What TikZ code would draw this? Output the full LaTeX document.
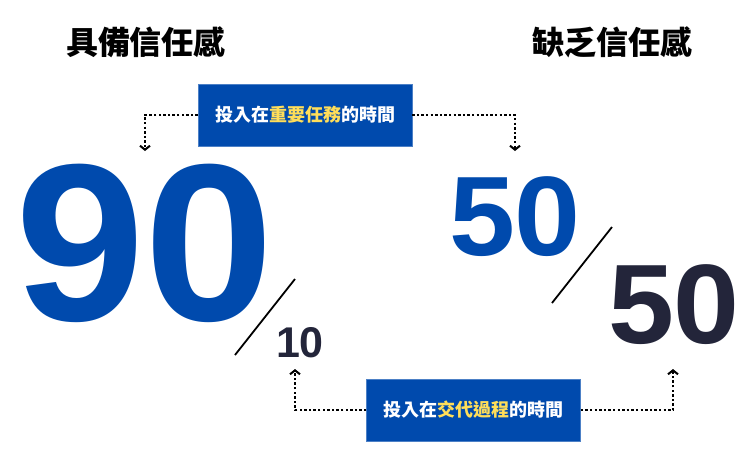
\documentclass[tikz,border=0pt]{standalone}
\usepackage{fontspec}
\setmainfont{Liberation Sans}
\newfontfamily\cjk{Noto Sans CJK TC}
\newfontfamily\cjkheavy{Noto Sans CJK TC Black}
\usetikzlibrary{arrows.meta}
\definecolor{tiefblau}{HTML}{004AAD}
\definecolor{nachtblau}{HTML}{23253A}
\definecolor{gelb}{HTML}{FFDE59}
\begin{document}
\begin{tikzpicture}[x=1pt, y=-1pt,
	titel/.style={font=\cjkheavy\fontsize{32}{32}\selectfont, text=black},
	kasten/.style={fill=tiefblau, draw=tiefblau!70!white, minimum width=214pt, minimum height=62pt, inner sep=0pt, text=white, font=\cjk\bfseries\fontsize{18}{18}\selectfont},
	zahl/.style={font=\bfseries\fontsize{#1}{#1}\selectfont, inner sep=0pt, text depth=0pt, text height=0.73\dimexpr#1pt\relax, anchor=base},
	pfeil/.style={line width=2.6pt, dash pattern=on 2.4pt off 2.2pt, -{Straight Barb[length=4pt, width=10pt, line width=2pt]}}
	]
	\useasboundingbox (0,0) rectangle (753,464);
	
	% Ueberschriften
	\node[titel] (links) at (146,42) {具備信任感};
	\node[titel] (rechts) at (612,42) {缺乏信任感};
	
	% Kaesten
	\node[kasten] (oben) at (305,115) {投入在\textcolor{gelb}{重要任務}的時間};
	\node[kasten] (unten) at (473.5,410) {投入在\textcolor{gelb}{交代過程}的時間};
	
	% Zahlen links (90/10)
	\node[zahl=224, text=tiefblau, xscale=1.04] (neunzig) at (145,320) {90};
	\node[zahl=43, text=nachtblau] (zehn) at (300,357) {10};
	\draw[line width=1.8pt] (235,355) -- (295,279);
	
	% Zahlen rechts (50/50)
	\node[zahl=113, text=tiefblau, xscale=1.05] (fuenfzigA) at (515,255) {50};
	\node[zahl=113, text=nachtblau, xscale=1.05] (fuenfzigB) at (674,343) {50};
	\draw[line width=1.8pt] (552,303) -- (612,227);
	
	% Zielpunkte der Pfeile
	\coordinate (zielA) at (145,151);
	\coordinate (zielB) at (515,151);
	\coordinate (zielC) at (295,369);
	\coordinate (zielD) at (673,369);
	
	% gepunktete Pfeile
	\draw[pfeil] (oben.west) -| (zielA);
	\draw[pfeil] (oben.east) -| (zielB);
	\draw[pfeil] (unten.west) -| (zielC);
	\draw[pfeil] (unten.east) -| (zielD);
\end{tikzpicture}
\end{document}
